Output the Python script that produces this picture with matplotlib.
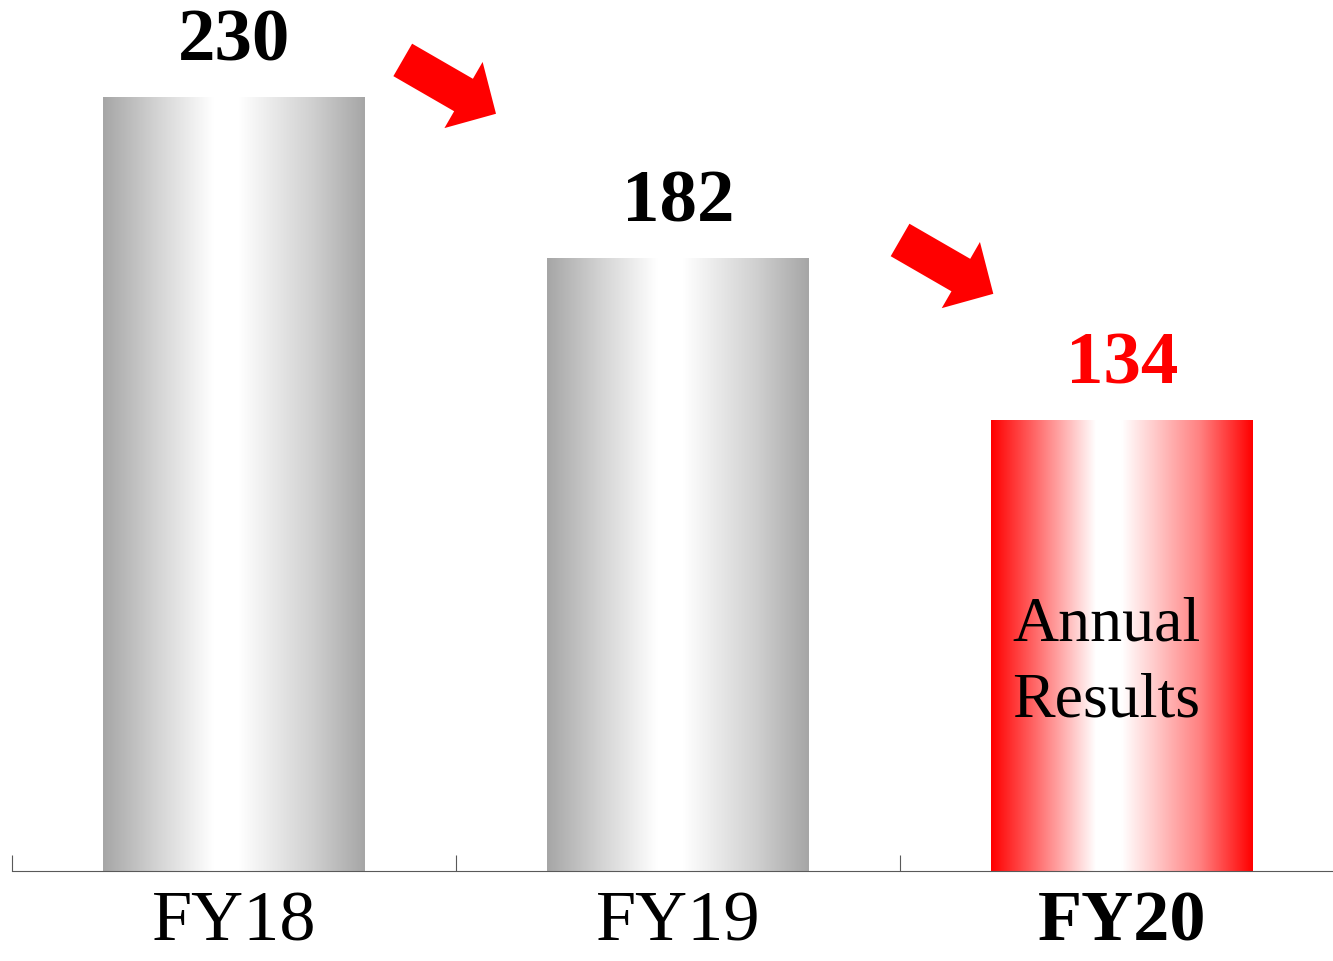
import matplotlib.pyplot as plt
import numpy as np
from matplotlib.colors import LinearSegmentedColormap
from matplotlib.ticker import FixedLocator

plt.rcParams['font.family'] = ['Liberation Serif', 'DejaVu Serif']

# data
years = ["FY18", "FY19", "FY20"]
values = [230, 182, 134]
highlight = [False, False, True]

grey_fade = LinearSegmentedColormap.from_list(
    "grey_fade", [(0, "#a6a6a6"), (0.20, "#d2d2d2"), (0.42, "#ffffff"),
                  (0.52, "#ffffff"), (0.80, "#d0d0d0"), (1, "#a6a6a6")])
red_fade = LinearSegmentedColormap.from_list(
    "red_fade", [(0, "#ff0000"), (0.18, "#ff7070"), (0.40, "#ffffff"),
                 (0.50, "#ffffff"), (0.80, "#ff8080"), (1, "#ff0000")])

fig = plt.figure(figsize=(13.33, 9.62), dpi=100)
ax = fig.add_axes([12 / 1333, 90 / 962, 1 - 12 / 1333, 872 / 962])

x = np.arange(len(years))
bars = ax.bar(x, values, width=0.59, color="none", edgecolor="none")

grad = np.linspace(0, 1, 256).reshape(1, -1)
for b, hl in zip(bars, highlight):
    x0, y0 = b.get_x(), b.get_y()
    w, h = b.get_width(), b.get_height()
    im = ax.imshow(grad, cmap=red_fade if hl else grey_fade, aspect="auto",
                   extent=(x0, x0 + w, y0, y0 + h), zorder=2)
    im.set_clip_path(b)

# value labels
for xi, v, hl in zip(x, values, highlight):
    ax.annotate(str(v), (xi, v), xytext=(0, 27), textcoords="offset points",
                ha="center", va="baseline", fontsize=54, fontweight="bold",
                color="#ff0000" if hl else "black")

# falling arrows between bars
for i in range(len(values) - 1):
    dx = 0.38 if i == 0 else 0.50
    tail = (x[i] + dx, values[i] + 11 if i == 0 else values[i] + 5.5)
    tip = (tail[0] + 0.21, tail[1] - 16)
    ax.annotate("", xy=tip, xytext=tail,
                arrowprops=dict(arrowstyle="simple,head_length=2.7,head_width=5.5,tail_width=2.7",
                                mutation_scale=10, color="#ff0000", lw=0,
                                shrinkA=0, shrinkB=0))

ax.text(x[2] - 0.035, 62, "Annual\nResults", ha="center", va="center",
        multialignment="left", fontsize=46, zorder=3, linespacing=1.4)

ax.set_xlim(-0.5, 2.475)
ax.set_ylim(0, 259.1)
ax.set_xticks(x)
ax.set_xticklabels(years, fontsize=52)
ax.get_xticklabels()[2].set_fontweight("bold")
ax.tick_params(axis="x", which="major", length=0, pad=13)
ax.xaxis.set_minor_locator(FixedLocator([-0.5, 0.5, 1.5]))
ax.tick_params(axis="x", which="minor", direction="in", length=11.5,
               width=0.8, color="#595959")
ax.set_yticks([])
for s in ["left", "right", "top"]:
    ax.spines[s].set_visible(False)
ax.spines["bottom"].set_color("#595959")
ax.spines["bottom"].set_linewidth(0.8)

fig.savefig("out.png", dpi=100)
